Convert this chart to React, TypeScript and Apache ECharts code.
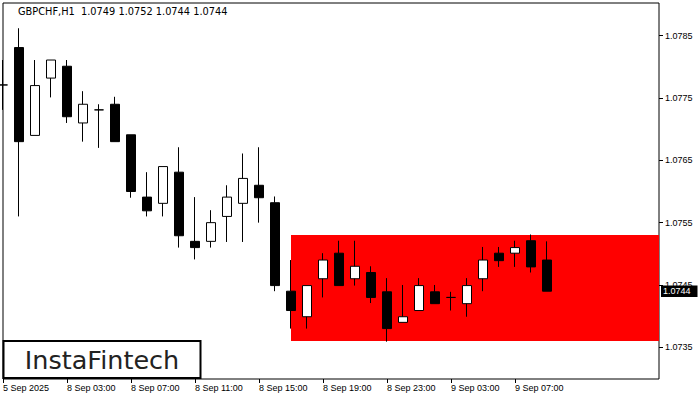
import React, { useEffect, useRef } from "react";
import * as echarts from "echarts";

// H1 bars, first one is the last bar of 5 Sep 2025 (23:00)
const categories = [
  "5 Sep 2025",
  "8 Sep 00:00", "8 Sep 01:00", "8 Sep 02:00", "8 Sep 03:00", "8 Sep 04:00", "8 Sep 05:00",
  "8 Sep 06:00", "8 Sep 07:00", "8 Sep 08:00", "8 Sep 09:00", "8 Sep 10:00", "8 Sep 11:00",
  "8 Sep 12:00", "8 Sep 13:00", "8 Sep 14:00", "8 Sep 15:00", "8 Sep 16:00", "8 Sep 17:00",
  "8 Sep 18:00", "8 Sep 19:00", "8 Sep 20:00", "8 Sep 21:00", "8 Sep 22:00", "8 Sep 23:00",
  "9 Sep 00:00", "9 Sep 01:00", "9 Sep 02:00", "9 Sep 03:00", "9 Sep 04:00", "9 Sep 05:00",
  "9 Sep 06:00", "9 Sep 07:00", "9 Sep 08:00", "9 Sep 09:00", "9 Sep 10:00", "9 Sep 11:00",
  "9 Sep 12:00", "9 Sep 13:00", "9 Sep 14:00", "9 Sep 15:00", "9 Sep 16:00",
];

const opens = [
  1.07771, 1.07831, 1.0769, 1.07782, 1.07801, 1.0771, 1.07731, 1.0774, 1.07691, 1.07591,
  1.07581, 1.07631, 1.0752, 1.0752, 1.0756, 1.07581, 1.0761, 1.07582, 1.0744, 1.07399,
  1.0746, 1.07501, 1.0746, 1.0747, 1.07439, 1.0739, 1.07409, 1.07439, 1.0743, 1.0742,
  1.0746, 1.07501, 1.07501, 1.07521, 1.0749,
];
const closes = [
  1.07771, 1.0768, 1.0777, 1.07811, 1.0772, 1.0774, 1.07731, 1.0768, 1.076, 1.07569,
  1.0764, 1.07529, 1.0751, 1.0755, 1.07591, 1.07621, 1.0759, 1.07449, 1.07409, 1.07449,
  1.0749, 1.07449, 1.0748, 1.0743, 1.0738, 1.07399, 1.07449, 1.0742, 1.0743, 1.07449,
  1.0749, 1.07489, 1.0751, 1.07479, 1.0744,
];
const lows = [
  1.07731, 1.0756, 1.0769, 1.07751, 1.0771, 1.0768, 1.0767, 1.0768, 1.0759, 1.0756,
  1.0756, 1.0751, 1.07491, 1.0751, 1.07519, 1.07519, 1.0755, 1.0744, 1.0738, 1.0738,
  1.0743, 1.07449, 1.07449, 1.07421, 1.07359, 1.0739, 1.07409, 1.0742, 1.07409, 1.07399,
  1.0744, 1.07479, 1.07479, 1.0747, 1.0744,
];
const highs = [
  1.07811, 1.07862, 1.07811, 1.07811, 1.07811, 1.07761, 1.0774, 1.07752, 1.07691, 1.07631,
  1.0764, 1.07671, 1.07591, 1.0757, 1.0761, 1.07661, 1.07671, 1.07592, 1.0749, 1.07449,
  1.07501, 1.07521, 1.07521, 1.0748, 1.07461, 1.0745, 1.07461, 1.0745, 1.07439, 1.07461,
  1.07511, 1.07511, 1.07521, 1.07531, 1.0752,
];

const yTicks = [1.0735, 1.0745, 1.0755, 1.0765, 1.0775, 1.0785];
const yMin = 1.072991;
const yMax = 1.079025;

const zoneStart = "8 Sep 17:00";
const zoneEnd = "9 Sep 16:00";
const zoneTop = 1.0753;
const zoneBottom = 1.0736;
const bidPrice = 1.0744;

const titleText = "GBPCHF,H1  1.0749 1.0752 1.0744 1.0744";
const logoText = "InstaFintech";

const FONT = "Liberation Sans";

export default function App() {
  const ref = useRef<HTMLDivElement>(null);

  useEffect(() => {
    const chart = echarts.init(ref.current!, null, { renderer: "svg" });
    const data = opens.map((o, i) => [o, closes[i], lows[i], highs[i]]);
    const lastRealIndex = opens.length - 1;
    const showTick = (i: number) => i % 4 === 0 && i < lastRealIndex;

    chart.setOption({
      animation: false,
      backgroundColor: "#ffffff",
      grid: {
        left: 2.5,
        top: 3,
        width: 656.5,
        height: 376,
        show: true,
        borderColor: "#000000",
        borderWidth: 1,
        backgroundColor: "transparent",
      },
      xAxis: {
        type: "category",
        data: categories,
        boundaryGap: false,
        axisLine: { show: false },
        axisTick: {
          show: true,
          length: 4,
          interval: (i: number) => showTick(i),
          lineStyle: { color: "#000", width: 1 },
        },
        axisLabel: {
          interval: (i: number) => showTick(i),
          align: "left",
          margin: 4,
          color: "#000",
          fontSize: 9,
          fontFamily: FONT,
        },
        splitLine: { show: false },
      },
      yAxis: {
        type: "value",
        position: "right",
        min: yMin,
        max: yMax,
        axisLine: { show: false },
        axisTick: {
          show: true,
          length: 4,
          customValues: yTicks,
          lineStyle: { color: "#000", width: 1 },
        },
        axisLabel: {
          customValues: yTicks,
          formatter: (v: number) => v.toFixed(4),
          margin: 6,
          color: "#000",
          fontSize: 9,
          fontFamily: FONT,
        },
        splitLine: { show: false },
      },
      series: [
        {
          type: "candlestick",
          data,
          barWidth: 10,
          clip: true,
          silent: true,
          itemStyle: {
            color: "#ffffff",
            color0: "#000000",
            borderColor: "#000000",
            borderColor0: "#000000",
            borderColorDoji: "#000000",
            borderWidth: 1,
          },
          emphasis: { disabled: true },
          markArea: {
            silent: true,
            itemStyle: { color: "#ff0000", opacity: 1, borderWidth: 0 },
            label: { show: false },
            data: [[
              { xAxis: zoneStart, yAxis: zoneTop },
              { xAxis: zoneEnd, yAxis: zoneBottom },
            ]],
          },
          markLine: {
            silent: true,
            symbol: ["none", "none"],
            label: { show: false },
            lineStyle: { color: "#000000", width: 1, type: "solid" },
            data: [{ yAxis: bidPrice }],
          },
        },
      ],
    });

    const bidY = chart.convertToPixel({ yAxisIndex: 0 }, bidPrice) as number;

    chart.setOption({
      graphic: [
        {
          type: "text",
          x: 18,
          y: 11,
          z: 100,
          style: {
            text: titleText,
            fill: "#000",
            font: `9.8px "DejaVu Sans"`,
            textVerticalAlign: "middle",
          },
        },
        {
          type: "group",
          z: 100,
          children: [
            {
              type: "rect",
              shape: { x: 661, y: bidY - 5.7, width: 36.5, height: 11.4 },
              style: { fill: "#000" },
              z: 100,
            },
            {
              type: "text",
              x: 663,
              y: bidY,
              z: 101,
              style: {
                text: bidPrice.toFixed(4),
                fill: "#fff",
                font: `9px "${FONT}"`,
                textVerticalAlign: "middle",
              },
            },
          ],
        },
        {
          type: "rect",
          z: 100,
          shape: { x: 3.5, y: 341, width: 197, height: 37 },
          style: { fill: "#fff", stroke: "#000", lineWidth: 2 },
        },
        {
          type: "text",
          z: 101,
          x: 102,
          y: 360,
          style: {
            text: logoText,
            fill: "#222",
            font: `25.5px "DejaVu Sans"`,
            textAlign: "center",
            textVerticalAlign: "middle",
          },
        },
      ],
    });

    return () => chart.dispose();
  }, []);

  return (
    <div
      ref={ref}
      style={{ position: "fixed", left: 0, top: 0, width: 700, height: 400, background: "#fff" }}
    />
  );
}
